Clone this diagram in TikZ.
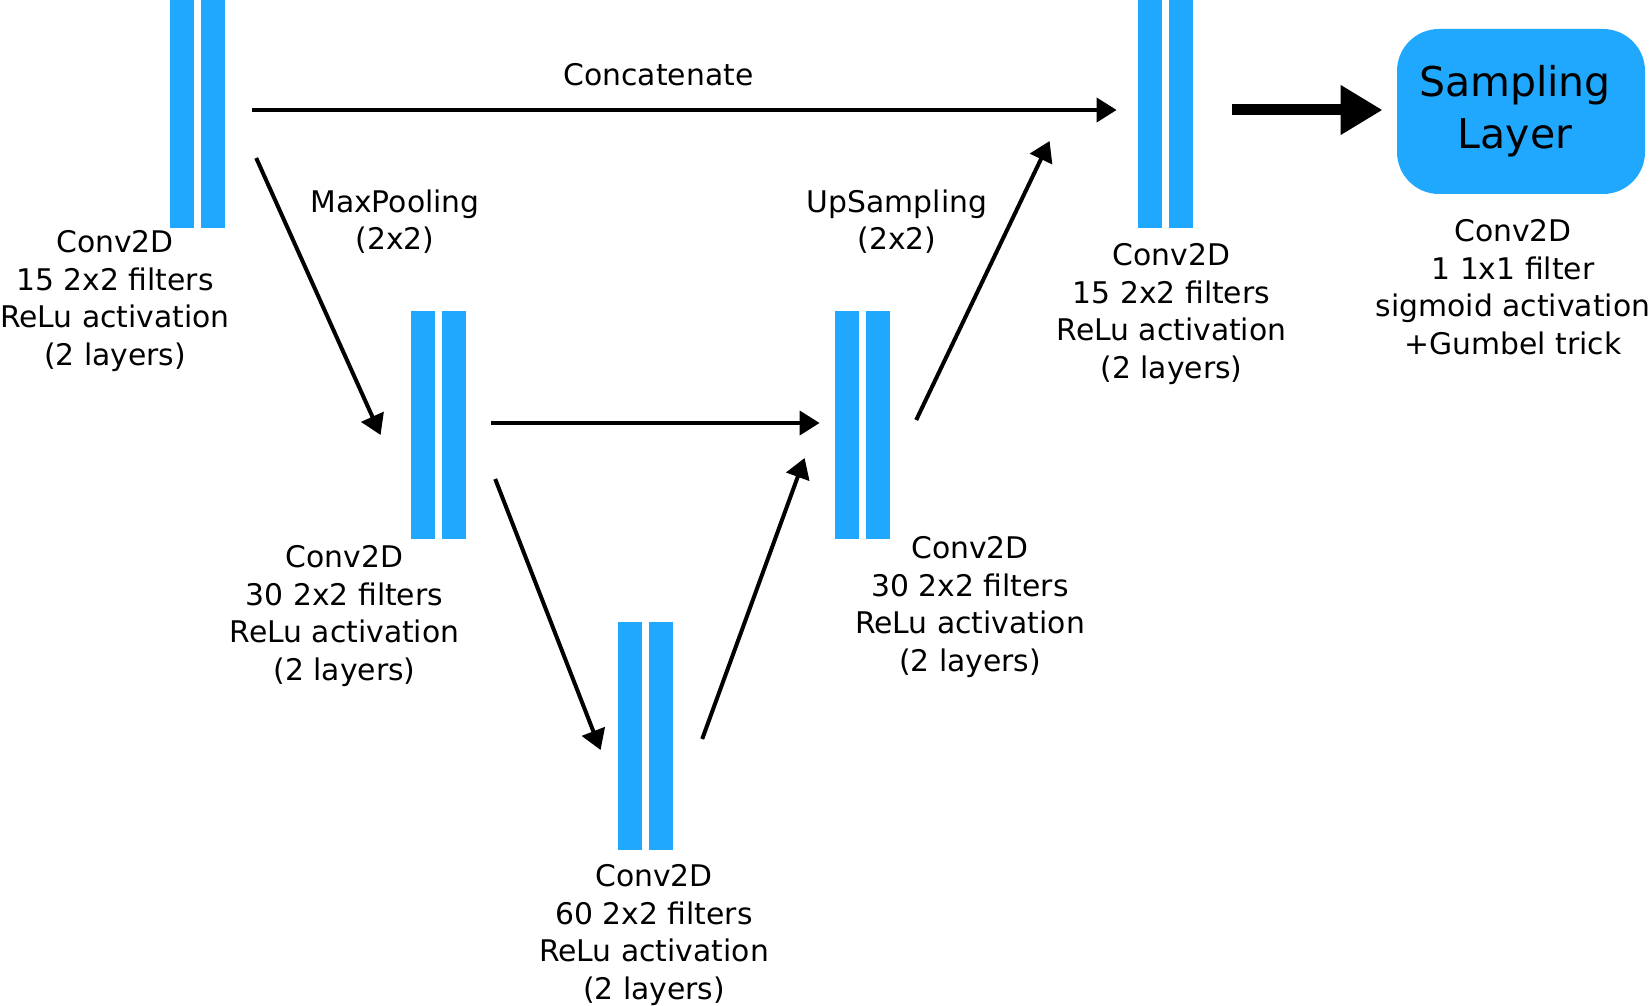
\documentclass[tikz,border=0pt]{standalone}
\usepackage{fontspec}
\setmainfont{DejaVu Sans}
\definecolor{LayerBlue}{RGB}{31,168,253}
\usetikzlibrary{arrows.meta,positioning}

\begin{document}
\begin{tikzpicture}[
      x=0.5pt, y=-0.5pt,
      node distance=3.5pt,
      every node/.style={font=\fontsize{14.9}{18.8}\selectfont},
      bar/.style={rectangle, fill=LayerBlue, inner sep=0pt,
                  minimum width=11.75pt, minimum height=114pt},
      lbl/.style={align=center, anchor=north, inner sep=0pt},
      arr/.style={-{Triangle[length=10pt, width=12pt]}, line width=2pt},
      bigarr/.style={-{Triangle[length=21pt, width=23.5pt]}, line width=5.5pt}
    ]
      \useasboundingbox (0,0) rectangle (1651,1006);

      \node[bar] (b1a) at (181.75,114) {};
      \node[bar, right=of b1a] (b1b) {};
      \node[bar] (b2a) at (422.75,425) {};
      \node[bar, right=of b2a] (b2b) {};
      \node[bar] (b3a) at (629.75,735.5) {};
      \node[bar, right=of b3a] (b3b) {};
      \node[bar] (b4a) at (846.75,425) {};
      \node[bar, right=of b4a] (b4b) {};
      \node[bar] (b5a) at (1149.75,114) {};
      \node[bar, right=of b5a] (b5b) {};
      \node[rectangle, rounded corners=21pt, fill=LayerBlue, minimum width=124pt,
            minimum height=82.5pt, align=center, font=\fontsize{20.5}{26}\selectfont]
            (samp) at (1521,111.5) {Sampling\hspace*{6pt}\\Layer\hspace*{6pt}};

      \node[lbl] (l1) at (115,230) {Conv2D\\15 2x2 filters\\ReLu activation\\(2 layers)};
      \node[lbl] (l2) at (344.5,545) {Conv2D\\30 2x2 filters\\ReLu activation\\(2 layers)};
      \node[lbl] (l3) at (654,864) {Conv2D\\60 2x2 filters\\ReLu activation\\(2 layers)};
      \node[lbl] (l4) at (970,536) {Conv2D\\30 2x2 filters\\ReLu activation\\(2 layers)};
      \node[lbl] (l5) at (1171.5,243) {Conv2D\\15 2x2 filters\\ReLu activation\\(2 layers)};
      \node[lbl] (l6) at (1513,219) {Conv2D\\1 1x1 filter\\sigmoid activation\\+Gumbel trick};
      \node[lbl] (pool) at (395,189) {MaxPooling\\(2x2)};
      \node[lbl] (upsamp) at (897,189) {UpSampling\\(2x2)};

      \draw[arr] ([shift={(27,-4)}]b1b.east) -- node[above=10.8pt, pos=.47, inner sep=0pt] (concat) {Concatenate} ([shift={(-21,-4)}]b5a.west);
      \draw[arr] ([shift={(31,44)}]b1b.east) -- ([shift={(-30,10)}]b2a.west);
      \draw[arr] ([shift={(25,-2)}]b2b.east) -- ([shift={(-15,-2)}]b4a.west);
      \draw[arr] ([shift={(29,54)}]b2b.east) -- ([shift={(-17,14.5)}]b3a.west);
      \draw[arr] ([shift={(29,3.5)}]b3b.east) -- ([shift={(-30,33)}]b4a.west);
      \draw[arr] ([shift={(26,-5)}]b4b.east) -- ([shift={(-88,27)}]b5a.west);
      \draw[bigarr] ([shift={(39,-4)}]b5b.east) -- ([shift={(-14,-1.5)}]samp.west);
    \end{tikzpicture}
\end{document}
